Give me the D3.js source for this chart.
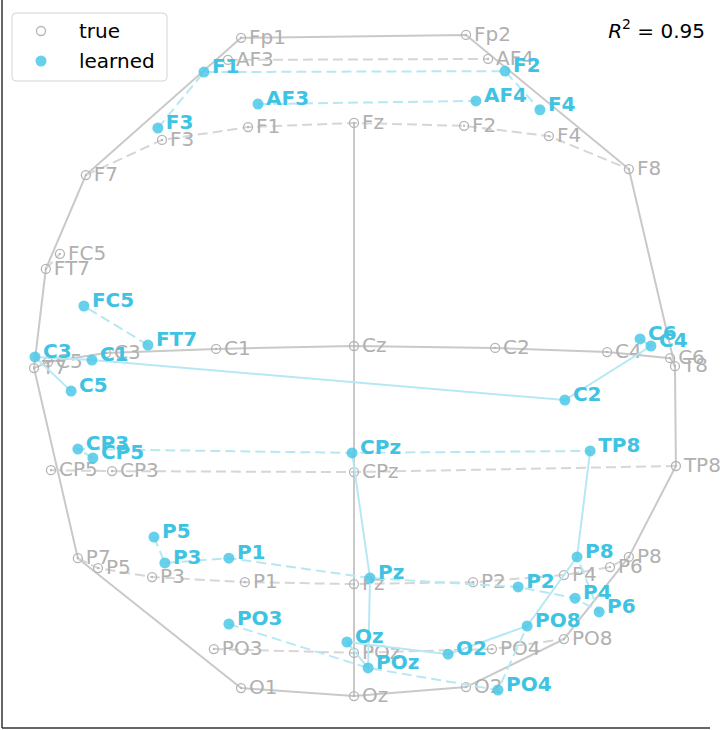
<!DOCTYPE html>
<html><head><meta charset="utf-8">
<script src="https://cdn.jsdelivr.net/npm/d3@7"></script>
<style>body{margin:0;background:#fff} svg{display:block;font-family:"DejaVu Sans",sans-serif}</style>
</head><body><svg id="c" width="723" height="730"></svg>
<script>
// true montage positions (mm, head-centred)
const trueChannels = ["Fp1","Fp2","AF3","AF4","F7","F3","F1","Fz","F2","F4","F8","FC5","FT7","T7","C5","C3","C1","Cz","C2","C4","C6","T8","CP5","CP3","CPz","TP8","P7","P5","P3","P1","Pz","P2","P4","P6","P8","PO3","POz","PO4","PO8","O1","Oz","O2"];
const trueX = [-35.3,35.0,-39.4,41.9,-83.8,-60.0,-33.1,0,34.4,60.9,85.9,-91.9,-96.3,-100,-95.6,-77.5,-43.1,0,44.1,79.1,98.8,100.3,-94.7,-75.6,0,100.6,-86.3,-80.0,-63.1,-34.1,0,37.2,65.6,80.0,85.9,-43.8,0,43.1,65.6,-35.3,0,35.0];
const trueY = [96.3,97.2,89.4,89.7,53.4,64.4,68.4,69.7,68.8,65.6,55.3,28.8,24.1,-6.9,-5.0,-2.2,-0.9,0,-0.6,-1.9,-3.8,-6.3,-38.8,-39.1,-39.4,-37.5,-66.3,-69.4,-72.2,-73.8,-74.4,-73.8,-71.6,-69.1,-65.9,-94.7,-95.9,-94.7,-91.6,-106.9,-109.4,-106.6];

// learned positions
const learnedChannels = ["AF3","AF4","F3","F1","F2","F4","FC5","FT7","C5","C3","C1","C2","C4","C6","CP5","CP3","CPz","TP8","P5","P3","P1","Pz","P2","P4","P6","P8","PO3","POz","PO4","PO8","Oz","O2"];
const learnedX = [-30.0,38.1,-61.3,-46.9,47.2,58.1,-84.4,-64.4,-88.4,-99.7,-81.9,65.9,92.8,89.4,-81.6,-86.3,-0.6,73.8,-62.5,-59.1,-39.1,5.0,51.3,69.1,76.6,69.7,-39.1,4.4,45.0,54.1,-2.2,29.4];
const learnedY = [75.6,76.6,68.1,85.6,85.9,73.8,12.5,0.3,-14.1,-3.4,-4.4,-16.9,0,2.2,-35.0,-32.2,-33.4,-32.8,-59.7,-67.8,-66.3,-72.5,-75.3,-78.8,-83.1,-65.9,-86.9,-100.6,-107.5,-87.5,-92.5,-96.3];

// montage wiring
const solidLines = [
  ["T7","FT7","F7","Fp1","Fp2","F8","T8"],
  ["T7","P7","O1","Oz","O2","PO8","P8","TP8","T8"],
  ["Fz","Cz","CPz","Pz","POz","Oz"],
  ["T7","C5","C3","C1","Cz","C2","C4","C6","T8"]
];
const dashedLines = [
  ["AF3","AF4"],
  ["F7","F3","F1","Fz","F2","F4","F8"],
  ["FT7","FC5"],
  ["CP5","CP3","CPz","TP8"],
  ["P7","P5","P3","P1","Pz","P2","P4","P6","P8"],
  ["PO3","POz","PO4","PO8"]
];
const legendLabels = ["true","learned"];
const r2Value = 0.95;

const svg = d3.select("#c");
const x = d3.scaleLinear().domain([-110, 111.25]).range([2, 710]);
const y = d3.scaleLinear().domain([-119.375, 108.125]).range([728, 0]);

const truePos = new Map(trueChannels.map((c,i)=>[c,[trueX[i],trueY[i]]]));
const learnedPos = new Map(learnedChannels.map((c,i)=>[c,[learnedX[i],learnedY[i]]]));
const line = d3.line().x(d=>x(d[0])).y(d=>y(d[1]));

const GRAY_LINE = "#c9c9c9", GRAY_DASH = "#d6d6d6", GRAY_TXT = "#b0b0b0", GRAY_MK = "#b5b5b5";
const BLUE = "#4cc8e6", BLUE_TXT = "#3fc3e2", BLUE_LINE = "#b6e8f4";

function drawLines(pos, color, dcolor) {
  solidLines.forEach(l => {
    const pts = l.filter(c=>pos.has(c)).map(c=>pos.get(c));
    if (pts.length>1) svg.append("path").attr("d", line(pts)).attr("fill","none").attr("stroke",color).attr("stroke-width",2);
  });
  dashedLines.forEach(l => {
    const pts = l.filter(c=>pos.has(c)).map(c=>pos.get(c));
    if (pts.length>1) svg.append("path").attr("d", line(pts)).attr("fill","none").attr("stroke",dcolor).attr("stroke-width",2).attr("stroke-dasharray","10,5");
  });
}

// axes spines
svg.append("line").attr("x1",x.range()[0]).attr("x2",x.range()[0]).attr("y1",0).attr("y2",y.range()[0]).attr("stroke","#333").attr("stroke-width",1.5);
svg.append("line").attr("x1",x.range()[0]).attr("x2",x.range()[1]).attr("y1",y.range()[0]).attr("y2",y.range()[0]).attr("stroke","#333").attr("stroke-width",1.5);

// true
drawLines(truePos, GRAY_LINE, GRAY_DASH);
trueChannels.forEach((c,i)=>{
  svg.append("circle").attr("cx",x(trueX[i])).attr("cy",y(trueY[i])).attr("r",4.5).attr("fill","none").attr("stroke",GRAY_MK).attr("stroke-width",1.3);
  svg.append("circle").attr("cx",x(trueX[i])).attr("cy",y(trueY[i])).attr("r",1.1).attr("fill",GRAY_MK);
});
trueChannels.forEach((c,i)=>{
  svg.append("text").attr("x",x(trueX[i])+8).attr("y",y(trueY[i])+6).attr("font-size",20).attr("fill",GRAY_TXT).text(c);
});

// learned
drawLines(learnedPos, BLUE_LINE, BLUE_LINE);
learnedChannels.forEach((c,i)=>{
  svg.append("circle").attr("cx",x(learnedX[i])).attr("cy",y(learnedY[i])).attr("r",5.5).attr("fill",BLUE).attr("opacity",0.85);
});
learnedChannels.forEach((c,i)=>{
  svg.append("text").attr("x",x(learnedX[i])+8).attr("y",y(learnedY[i])+1).attr("font-size",20).attr("font-weight","bold").attr("fill",BLUE_TXT).text(c);
});

// legend
const lg = svg.append("g");
lg.append("rect").attr("x",12).attr("y",13).attr("width",155).attr("height",68).attr("rx",4).attr("fill","rgba(255,255,255,0.85)").attr("stroke","#d4d4d4").attr("stroke-width",1);
lg.append("circle").attr("cx",41).attr("cy",31).attr("r",4.5).attr("fill","none").attr("stroke",GRAY_MK).attr("stroke-width",1.3);
lg.append("circle").attr("cx",41).attr("cy",61).attr("r",5.5).attr("fill",BLUE).attr("opacity",0.85);
lg.append("text").attr("x",79).attr("y",38).attr("font-size",20).attr("fill","#000").text(legendLabels[0]);
lg.append("text").attr("x",79).attr("y",68).attr("font-size",20).attr("fill","#000").text(legendLabels[1]);

// R^2
const t = svg.append("text").attr("x",705).attr("y",38).attr("font-size",20).attr("text-anchor","end").attr("fill","#000");
t.append("tspan").attr("font-style","italic").text("R");
t.append("tspan").attr("font-size",14).attr("dy",-9).text("2");
t.append("tspan").attr("dy",9).text(" = " + r2Value.toFixed(2));
</script></body></html>
